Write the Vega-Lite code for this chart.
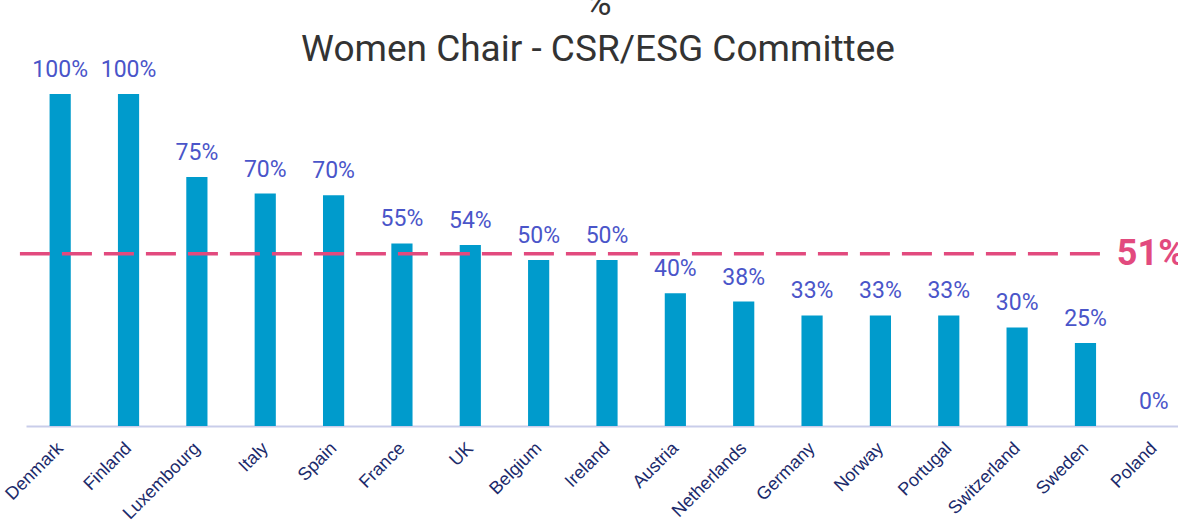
{
  "$schema": "https://vega.github.io/schema/vega-lite/v6.json",
  "autosize": {"type": "none"},
  "width": 1162,
  "height": 332,
  "padding": {"left": 26, "top": 94, "right": 0, "bottom": 100},
  "background": "white",
  "config": {"view": {"stroke": null}},
  "title": {
    "text": ["%", "Women Chair - CSR/ESG Committee"],
    "font": "Roboto",
    "fontSize": 37,
    "fontWeight": "normal",
    "color": "#333333",
    "lineHeight": 46,
    "anchor": "middle",
    "dx": -9,
    "offset": -10
  },
  "datasets": {
    "bars": [
      {"country": "Denmark", "value": 100, "label": "100%"},
      {"country": "Finland", "value": 100, "label": "100%"},
      {"country": "Luxembourg", "value": 75, "label": "75%"},
      {"country": "Italy", "value": 70, "label": "70%"},
      {"country": "Spain", "value": 69.5, "label": "70%"},
      {"country": "France", "value": 55, "label": "55%"},
      {"country": "UK", "value": 54.5, "label": "54%"},
      {"country": "Belgium", "value": 50, "label": "50%"},
      {"country": "Ireland", "value": 50, "label": "50%"},
      {"country": "Austria", "value": 40, "label": "40%"},
      {"country": "Netherlands", "value": 37.5, "label": "38%"},
      {"country": "Germany", "value": 33.3, "label": "33%"},
      {"country": "Norway", "value": 33.3, "label": "33%"},
      {"country": "Portugal", "value": 33.3, "label": "33%"},
      {"country": "Switzerland", "value": 29.7, "label": "30%"},
      {"country": "Sweden", "value": 25, "label": "25%"},
      {"country": "Poland", "value": 0, "label": "0%"}
    ],
    "avg": [{"avg": 51.9, "label": "51%", "from": "Denmark", "to": "Sweden", "at": "Poland"}]
  },
  "layer": [
    {
      "data": {"name": "bars"},
      "mark": {"type": "bar", "color": "#009bcc"},
      "encoding": {
        "x": {
          "field": "country", "type": "nominal",
          "scale": {
            "domain": ["Denmark", "Finland", "Luxembourg", "Italy", "Spain", "France", "UK", "Belgium", "Ireland", "Austria", "Netherlands", "Germany", "Norway", "Portugal", "Switzerland", "Sweden", "Poland"],
            "paddingInner": 0.69, "paddingOuter": 0.345
          },
          "axis": {
            "title": null, "ticks": false, "labelAngle": -45,
            "labelFont": "Liberation Sans", "labelFontSize": 18,
            "labelColor": "#1b2a6b", "labelPadding": 13, "labelOffset": -6,
            "domainColor": "#c9cdea", "domainWidth": 2
          }
        },
        "y": {
          "field": "value", "type": "quantitative",
          "scale": {"domain": [0, 100], "nice": false},
          "axis": null
        }
      }
    },
    {
      "data": {"name": "bars"},
      "mark": {"type": "text", "font": "Roboto", "fontSize": 23, "color": "#4a55c9", "baseline": "alphabetic", "dy": -17},
      "encoding": {
        "x": {"field": "country", "type": "nominal"},
        "y": {"field": "value", "type": "quantitative"},
        "text": {"field": "label"}
      }
    },
    {
      "data": {"name": "avg"},
      "mark": {"type": "rule", "color": "#e24a7e", "strokeWidth": 3.5, "strokeDash": [30, 12]},
      "encoding": {
        "x": {"field": "from", "type": "nominal", "bandPosition": -1.4},
        "x2": {"field": "to", "bandPosition": 1.5},
        "y": {"field": "avg", "type": "quantitative"}
      }
    },
    {
      "data": {"name": "avg"},
      "mark": {"type": "text", "font": "Roboto", "fontSize": 36, "fontWeight": "bold", "color": "#e24a7e", "baseline": "middle", "align": "center", "dx": -3},
      "encoding": {
        "x": {"field": "at", "type": "nominal"},
        "y": {"field": "avg", "type": "quantitative"},
        "text": {"field": "label"}
      }
    }
  ]
}
